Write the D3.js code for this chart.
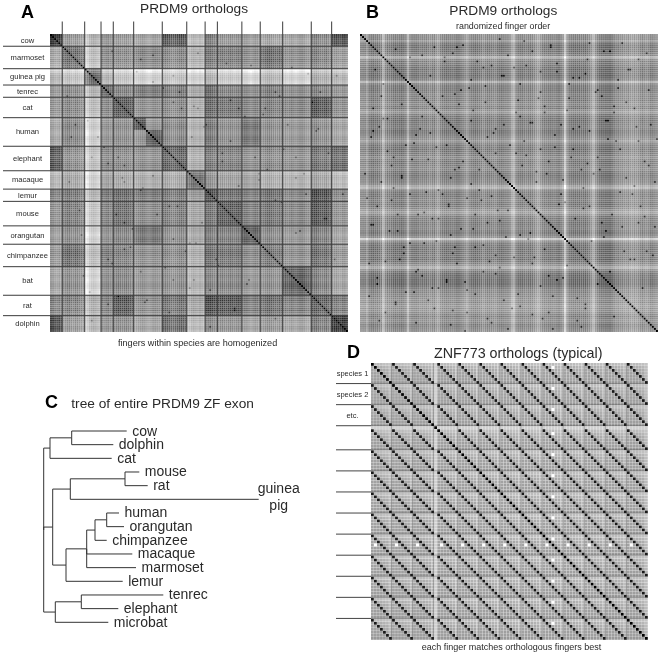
<!DOCTYPE html>
<html><head><meta charset="utf-8">
<script src="https://cdn.jsdelivr.net/npm/d3@7"></script>
<style>html,body{margin:0;padding:0;background:#fff}svg{display:block}text{font-family:"Liberation Sans",Arial,sans-serif;fill:#2a2a2a;filter:blur(.3px)}</style>
</head><body><div id="chart"></div>
<script>
// ---------- Panel A: species, finger counts, block similarity (gray)
const speciesA = ["cow","marmoset","guinea pig","tenrec","cat","human","elephant","macaque","lemur","mouse","orangutan","chimpanzee","bat","rat","dolphin"];
const fingersA = [6,11,8,6,10,14,12,9,6,12,9,11,14,10,8];
const blockA = [
[ 72,150,185,150,155,165, 95,190,130,150,160,165,165,135, 90],
[165,105,195,135,135,130,130,175,120,120,135,105,135,125,150],
[190,200,115,190,205,218,205,218,190,210,222,190,218,180,190],
[155,135,185,112,130,125,125,170,115,130,140,125,140,130,150],
[150,130,195,135, 92,140,135,175,110,115,130,125,130, 90,140],
[170,130,215,150,140,135,135,180,125,140,120,140,150,140,165],
[ 95,135,200,135,135,140,103,175,125,125,140,135,140,115,110],
[185,165,218,165,170,175,170,118,150,160,165,175,180,165,190],
[135,120,190,125,110,125,125,155, 95,115,130,115,135, 85,140],
[145,120,205,130,110,135,125,165,120, 95,125,115,130, 90,145],
[160,135,218,145,130,120,140,170,130,125,120,135,150,125,165],
[150,105,195,125,125,140,135,175,115,115,135,118,140,110,150],
[165,135,218,140,130,150,140,180,135,130,150,140,100,125,165],
[130,125,180,130, 90,140,115,165, 85, 90,125,110,125, 72,125],
[ 90,150,190,150,140,165,110,190,140,145,165,150,165,125, 72]];
const toneA = [
-6,-4,2,4,-2,6,
6,2,-4,-6,0,4,-4,-2,4,8,10,
22,14,0,-6,-8,-4,2,8,
-4,4,-2,-6,2,0,
4,-2,-6,-4,0,-4,-6,-2,2,6,
6,2,-2,-4,-6,-2,4,8,6,-2,-4,-2,0,4,
-4,-6,-4,-2,2,4,0,-2,-6,-8,-4,0,
8,6,-2,-4,0,4,-2,2,8,
-2,-6,-8,-4,0,2,
2,-4,-6,-2,0,-4,-6,-2,2,-2,-4,4,
0,-4,-2,4,8,2,-4,-2,4,
6,4,-2,-6,-8,-6,-2,0,2,-4,4,
2,-2,4,0,-4,2,6,2,-2,-4,-2,4,6,8,
-4,-6,-8,-4,0,2,-2,-6,4,8,
-2,-4,-6,0,4,-4,-2,6];
const patchesA = [[41,47,41,47,95],[47,55,47,55,100],[41,47,47,55,150],[94,103,94,103,105],[128,138,128,138,100]];
const speckA = [[102,68],[102,71],[26,55],[45,75],[33,60],[120,60],[88,32],[64,36],[70,120],[128,33],[134,90],[140,20],[95,40],[110,28],[78,125],[60,20],[72,36],[50,10],[42,18],[90,135],[100,60],[58,84],[116,44],[122,96],[36,92],[84,62],[76,44],[136,58],[30,112],[66,106],[12,44],[9,72],[15,98],[19,126],[23,50],[35,70],[39,104],[47,130],[52,88],[56,114],[63,28],[69,50],[74,92],[81,110],[86,14],[92,74],[97,120],[105,36],[113,82],[118,16],[124,68],[131,46],[139,110],[143,78],[8,30],[28,132]];

// ---------- Panel B: per-finger tone and dark spots
const baseB = 138;
const toneB = [
12,8,5,25,-5,-15,-18,-12,-15,-8,
0,50,8,-8,-5,-10,-15,-18,-12,-15,
-18,-10,0,48,10,-3,-5,-8,-6,2,
-5,-3,-8,0,5,-5,-8,12,22,-2,
-10,-12,-15,-10,-8,-3,-5,-12,-8,0,
5,12,25,5,-8,-10,-15,-12,-8,-5,
8,-3,-10,-8,-5,0,5,-8,-10,-12,
-5,0,3,15,42,50,10,-5,-8,-10,
-5,0,-8,-10,-5,5,18,30,12,-3,
-8,-5,-10,-8,-3,0,-5,-8,2,15,
75,20,-5,-12,-15,-18,-15,-18,-12,-15,
-18,-10,0,18,45,12,-5,-15,-18,-15,
-18,-15,-18,-12,-5,5,0,8,5,12,
15,5,18,22,12,20,10,2,-5,5,
12,5,-5,0,8,15];
const speckB = [[24,11],[111,12],[140,9],[53,26],[36,6],[60,16],[84,8],[96,18],[128,4],[30,40],[48,34],[70,44],[90,38],[118,30],[134,36],[66,58],[80,52],[104,46],[125,52],[142,44],[86,72],[108,66],[130,70],[112,84],[136,92],[120,96],[132,110],[138,124],[20,70],[14,96],[8,122],[5,50],[17,132],[28,88],[42,120],[56,104],[74,134],[92,118],[62,92],[46,66],[34,20],[22,54],[10,30],[78,24],[98,78],[116,60],[126,22],[144,72],[40,78],[52,136],[68,114],[82,100],[94,128],[106,140],[19,110],[3,80],[72,10],[88,56],[102,24],[122,116],[76,38],[58,76],[44,98],[26,126],[15,64],[31,102],[110,134],[137,84],[143,108],[121,42],
[7,17],[13,41],[16,75],[18,88],[21,104],[25,61],[27,116],[29,46],[32,77],[33,130],[35,90],[37,55],[41,11],[43,84],[45,107],[49,27],[50,62],[51,121],[54,42],[55,95],[57,13],[59,81],[61,33],[63,111],[64,141],[65,48],[67,86],[69,20],[71,99],[73,54],[77,127],[79,64],[81,15],[83,43],[85,109],[87,31],[89,139],[91,68],[93,5],[95,49],[97,83],[99,119],[101,37],[103,60],[105,90],[107,21],[109,75],[112,47],[113,101],[115,28],[117,66],[119,8],[123,88],[124,35],[127,56],[129,106],[131,17],[133,78],[135,45],[139,62],[141,27],[144,94],[145,51],[38,124],[47,6],[2,68],[4,112],[6,93],[9,45],[12,136]];

// ---------- Panel D: fingers per species, 7x7 ortholog finger similarity
const fingersD = [7,7,7,8,7,7,7,7,7,7,7,7,7];
const labelsD = ["species 1","species 2","etc."];
const extraFingerGray = 218;
const motifD = [
[ 50,195,195,195,200,200,205],
[178, 50,180,180,185,190,200],
[172,175, 50,172,175,180,198],
[168,168,168, 50,170,175,195],
[168,165,165,165, 50,172,192],
[165,165,165,165,165, 50,188],
[158,158,158,158,160,165, 50]];
const whiteRowD = 60, whiteFingerD = 1;

// ---------- Panel C: tree (x = branch position), leaves in order
const tree = {x:43.7,children:[
 {x:50,children:[{x:71.7,children:[{name:"cow",x:126.7},{name:"dolphin",x:113.3}]},{name:"cat",x:111.7}]},
 {x:52.7,children:[
  {x:70.3,children:[{x:125,children:[{name:"mouse",x:139.3},{name:"rat",x:147.7}]},{name:"guinea",x:258.7}]},
  {x:66,children:[
    {x:86.7,children:[
      {x:95,children:[{x:106.7,children:[{name:"human",x:119},{name:"orangutan",x:124}]},{name:"chimpanzee",x:106.7}]},
      {name:"macaque",x:132.3},{name:"marmoset",x:136}]},
    {name:"lemur",x:122.7}]}]},
 {x:55.3,children:[{x:81.3,children:[{name:"tenrec",x:163.3},{name:"elephant",x:118.3}]},{name:"microbat",x:108.3}]}
]};

const W=661,H=656;
const svg=d3.select("#chart").append("svg").attr("width",W).attr("height",H).attr("viewBox",[0,0,W,H]);
const gray=d3.scaleLinear().domain([30,130,230,255]).range(["#000","#7e7e7e","#dcdcdc","#fff"]).clamp(true);

function drawCells(n,x0,x1,y0,y1,val,gap){
  const sx=d3.scaleLinear().domain([0,n]).range([x0,x1]);
  const sy=d3.scaleLinear().domain([0,n]).range([y0,y1]);
  const cells=d3.range(n*n).map(k=>({r:Math.floor(k/n),c:k%n}));
  const w=(x1-x0)/n*gap,h=(y1-y0)/n*gap;
  svg.append("g").selectAll("rect").data(cells).join("rect")
   .attr("x",d=>sx(d.c).toFixed(2)).attr("y",d=>sy(d.r).toFixed(2))
   .attr("width",w.toFixed(2)).attr("height",h.toFixed(2))
   .attr("fill",d=>gray(val(d.r,d.c)));
  return {sx,sy};
}
const key=(a,b)=>a+"_"+b;

// Panel A
{
  const n=d3.sum(fingersA);
  const owner=[];fingersA.forEach((f,s)=>d3.range(f).forEach(()=>owner.push(s)));
  const sp=new Set();speckA.forEach(([a,b])=>{sp.add(key(a,b));sp.add(key(b,a));});
  const val=(r,c)=>{
    if(r===c)return 20;
    let v=blockA[owner[r]][owner[c]];
    for(const p of patchesA){if(r>=p[0]&&r<p[1]&&c>=p[2]&&c<p[3]||c>=p[0]&&c<p[1]&&r>=p[2]&&r<p[3])v=p[4];}
    v+=(toneA[r]+toneA[c])*1.5;
    if(sp.has(key(r,c)))v-=45;
    return v;
  };
  const {sx,sy}=drawCells(n,50,348,34,332,val,0.98);
  const cum=d3.cumsum(fingersA);
  svg.append("g").selectAll("line").data(cum.slice(0,-1)).join("line")
    .attr("x1",3).attr("x2",348).attr("y1",d=>sy(d)).attr("y2",d=>sy(d)).attr("stroke","#3a3a3a").attr("stroke-width",1);
  svg.append("g").selectAll("line").data(cum.slice(0,-1)).join("line")
    .attr("y1",21.5).attr("y2",332).attr("x1",d=>sx(d)).attr("x2",d=>sx(d)).attr("stroke","#3a3a3a").attr("stroke-width",1);
  const starts=[0,...cum];
  svg.append("g").selectAll("text").data(speciesA).join("text")
    .attr("x",27.5).attr("y",(d,i)=>(sy(starts[i])+sy(starts[i+1]))/2+2.5)
    .attr("text-anchor","middle").attr("font-size",7.6).text(d=>d);
}
// Panel B
{
  const n=toneB.length;
  const sp=new Set();speckB.forEach(([a,b])=>{sp.add(key(a,b));sp.add(key(b,a));});
  const val=(r,c)=>{
    if(r===c)return 10;
    let v=baseB+toneB[r]+toneB[c];
    if(sp.has(key(r,c)))v-=70;
    return v;
  };
  drawCells(n,360,658,34,332,val,0.98);
}
// Panel D
{
  const n=d3.sum(fingersD);
  const owner=[],mf=[];
  fingersD.forEach((f,s)=>d3.range(f).forEach(i=>{owner.push(s);mf.push(f===8?i-1:i);}));
  const val=(r,c)=>{
    if(r===c)return 15;
    const a=mf[r],b=mf[c];
    if(a<0||b<0)return extraFingerGray;
    if((r===whiteRowD&&b===whiteFingerD)||(c===whiteRowD&&a===whiteFingerD))return 255;
    return motifD[a][b];
  };
  const {sx,sy}=drawCells(n,371,648,363,640,val,0.93);
  const cum=d3.cumsum(fingersD);
  svg.append("g").selectAll("line").data(cum.slice(0,-1)).join("line")
    .attr("x1",336).attr("x2",371).attr("y1",d=>sy(d)-.5).attr("y2",d=>sy(d)-.5).attr("stroke","#444");
  svg.append("g").selectAll("line").data(cum.slice(0,-1)).join("line")
    .attr("x1",371).attr("x2",648).attr("y1",d=>sy(d)-.5).attr("y2",d=>sy(d)-.5).attr("stroke","#333").attr("stroke-opacity",.35);
  svg.append("g").selectAll("line").data(cum.slice(0,-1)).join("line")
    .attr("y1",363).attr("y2",640).attr("x1",d=>sx(d)-.5).attr("x2",d=>sx(d)-.5).attr("stroke","#333").attr("stroke-opacity",.35);
  svg.append("g").selectAll("text").data(labelsD).join("text")
    .attr("x",352.5).attr("y",(d,i)=>sy(cum[i]-3.5)+2.5).attr("text-anchor","middle").attr("font-size",7.5).text(d=>d);
}
// Panel C
{
  const root=d3.hierarchy(tree);
  const leaves=root.leaves();
  const y=d3.scaleLinear().domain([0,leaves.length-1]).range([431,622.3]);
  leaves.forEach((l,i)=>l.py=y(i));
  root.eachAfter(d=>{if(d.children){d.py=(d.children[0].py+d.children[d.children.length-1].py)/2;}});
  const g=svg.append("g").attr("fill","none").attr("stroke","#333").attr("stroke-width",1);
  g.selectAll("path").data(root.links()).join("path")
    .attr("d",l=>`M${l.source.data.x},${l.source.py}V${l.target.py}H${l.target.data.x}`);
  svg.append("g").selectAll("text").data(leaves.filter(l=>l.data.name!=="guinea")).join("text")
    .attr("x",d=>d.data.x+5.5).attr("y",d=>d.py+4.5).attr("font-size",14).text(d=>d.data.name);
  const gp=leaves.find(l=>l.data.name==="guinea");
  svg.append("text").attr("x",278.7).attr("y",gp.py-6).attr("text-anchor","middle").attr("font-size",14).text("guinea");
  svg.append("text").attr("x",278.7).attr("y",gp.py+11).attr("text-anchor","middle").attr("font-size",14).text("pig");
}
// Titles and letters
const titles=[
 ["PRDM9 orthologs",140,13,13.7],["PRDM9 orthologs",449.3,15,13.7],["randomized finger order",456,28.5,8.9],
 ["fingers within species are homogenized",118,346,9.1],["tree of entire PRDM9 ZF exon",71.3,407.7,13.7],
 ["ZNF773 orthologs (typical)",434,357.7,14.3],["each finger matches orthologous fingers best",421.7,650,9]];
svg.append("g").selectAll("text").data(titles).join("text")
  .attr("x",d=>d[1]).attr("y",d=>d[2]).attr("font-size",d=>d[3]).text(d=>d[0]);
const letters=[["A",21,17.5],["B",366,17.5],["C",45,407.7],["D",347,358]];
svg.append("g").selectAll("text").data(letters).join("text")
  .attr("x",d=>d[1]).attr("y",d=>d[2]).attr("font-size",18).attr("font-weight","bold").style("fill","#000").text(d=>d[0]);
</script></body></html>
